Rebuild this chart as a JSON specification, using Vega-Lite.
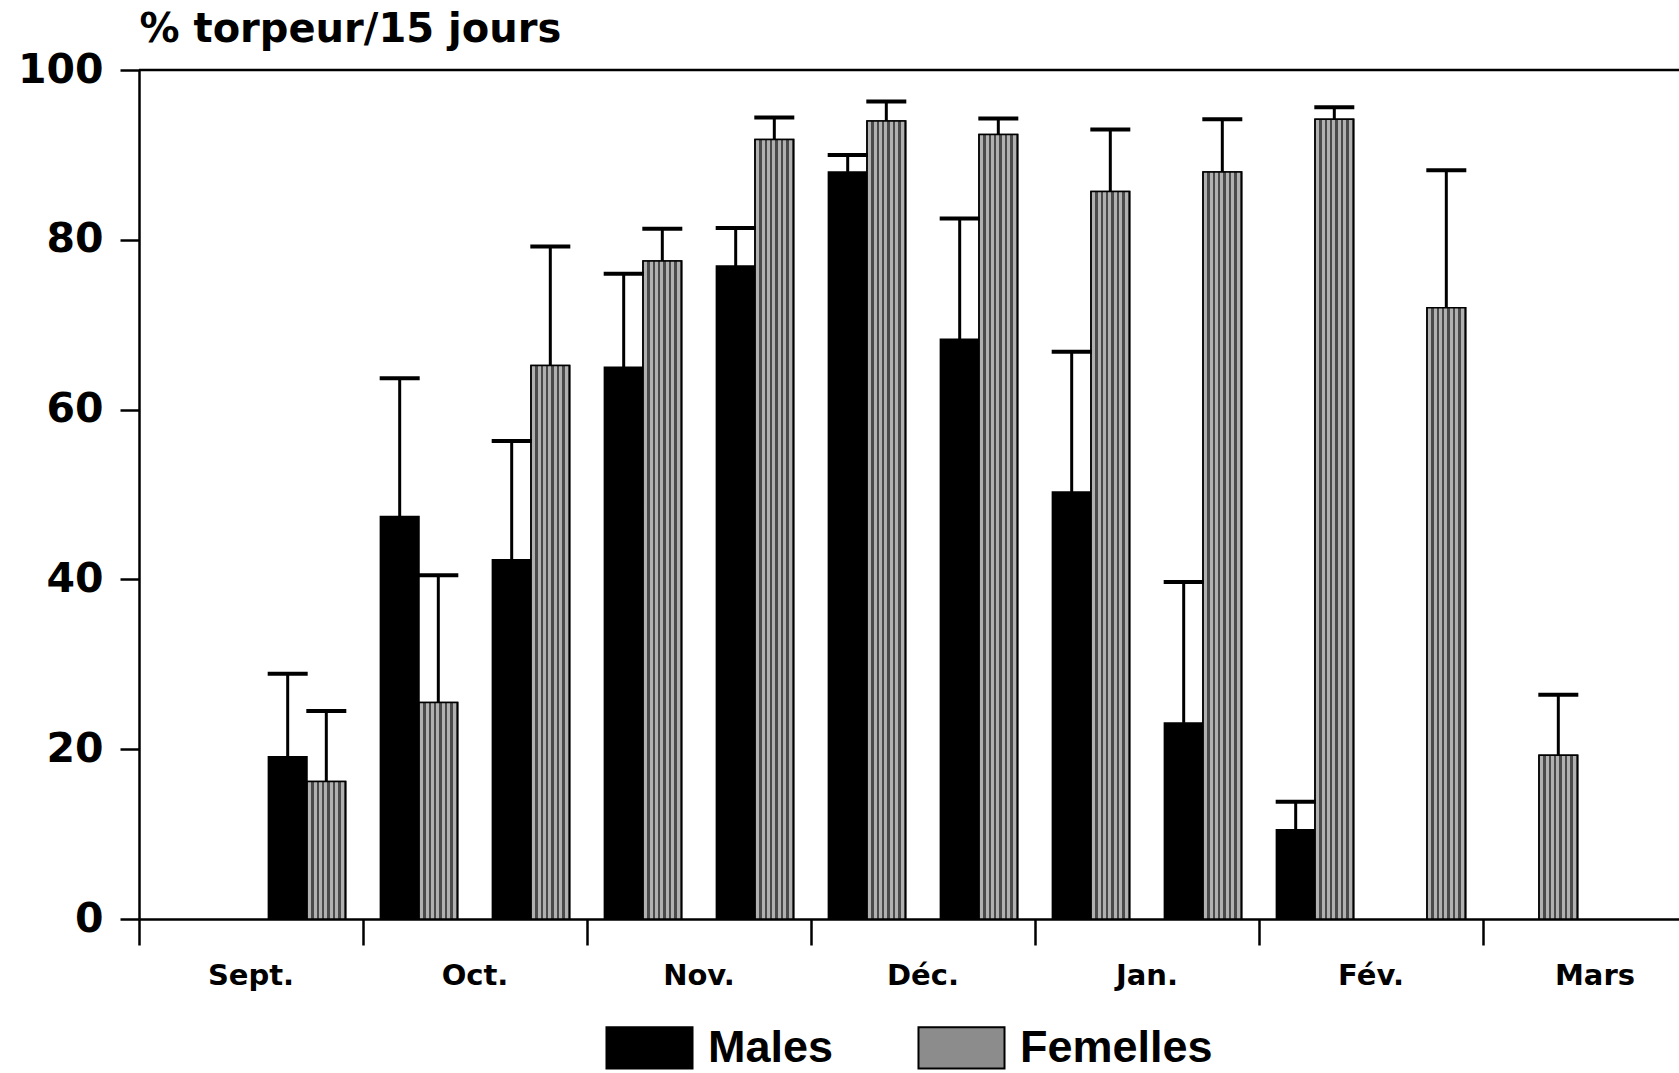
{
  "$schema": "https://vega.github.io/schema/vega-lite/v6.json",
  "width": 1540,
  "height": 849,
  "autosize": {"type": "none"},
  "padding": {"left": 139, "top": 70, "right": 0, "bottom": 154},
  "background": "white",
  "config": {"view": {"stroke": null}, "font": "DejaVu Sans"},
  "data": {
    "values": [
      {"periode": "S2", "sexe": "Males", "pct": 19.1, "err": 28.9},
      {"periode": "S2", "sexe": "Femelles", "pct": 16.2, "err": 24.5},
      {"periode": "O1", "sexe": "Males", "pct": 47.4, "err": 63.7},
      {"periode": "O1", "sexe": "Femelles", "pct": 25.5, "err": 40.5},
      {"periode": "O2", "sexe": "Males", "pct": 42.3, "err": 56.3},
      {"periode": "O2", "sexe": "Femelles", "pct": 65.2, "err": 79.2},
      {"periode": "N1", "sexe": "Males", "pct": 65.0, "err": 76.0},
      {"periode": "N1", "sexe": "Femelles", "pct": 77.5, "err": 81.3},
      {"periode": "N2", "sexe": "Males", "pct": 76.9, "err": 81.4},
      {"periode": "N2", "sexe": "Femelles", "pct": 91.8, "err": 94.4},
      {"periode": "D1", "sexe": "Males", "pct": 88.0, "err": 90.0},
      {"periode": "D1", "sexe": "Femelles", "pct": 94.0, "err": 96.3},
      {"periode": "D2", "sexe": "Males", "pct": 68.3, "err": 82.5},
      {"periode": "D2", "sexe": "Femelles", "pct": 92.4, "err": 94.3},
      {"periode": "J1", "sexe": "Males", "pct": 50.3, "err": 66.8},
      {"periode": "J1", "sexe": "Femelles", "pct": 85.7, "err": 93.0},
      {"periode": "J2", "sexe": "Males", "pct": 23.1, "err": 39.7},
      {"periode": "J2", "sexe": "Femelles", "pct": 88.0, "err": 94.2},
      {"periode": "F1", "sexe": "Males", "pct": 10.5, "err": 13.8},
      {"periode": "F1", "sexe": "Femelles", "pct": 94.2, "err": 95.6},
      {"periode": "F2", "sexe": "Femelles", "pct": 72.0, "err": 88.2},
      {"periode": "M1", "sexe": "Femelles", "pct": 19.3, "err": 26.4}
    ]
  },
  "layer": [
    {
      "mark": {"type": "bar", "stroke": "black", "strokeWidth": 1.5},
      "encoding": {
        "x": {
          "field": "periode", "type": "nominal",
          "scale": {"domain": ["S1","S2","O1","O2","N1","N2","D1","D2","J1","J2","F1","F2","M1","M2"], "range": [0, 1568], "paddingInner": 0, "paddingOuter": 0},
          "axis": {
            "values": ["S1","O1","N1","D1","J1","F1","M1"],
            "bandPosition": 0,
            "labelExpr": "['Sept.','Oct.','Nov.','Déc.','Jan.','Fév.','Mars'][indexof(['S1','O1','N1','D1','J1','F1','M1'], datum.value)]",
            "labelOffset": 56,
            "title": null,
            "tickSize": 26,
            "tickWidth": 2.5,
            "tickColor": "black",
            "domainColor": "black",
            "domainWidth": 2.5,
            "labelFont": "DejaVu Sans",
            "labelFontSize": 29,
            "labelFontWeight": "bold",
            "labelColor": "black",
            "labelPadding": 16,
            "labelAngle": 0,
            "labelBound": false,
            "labelOverlap": false
          }
        },
        "xOffset": {"field": "sexe", "type": "nominal", "scale": {"domain": ["Males","Femelles"], "paddingInner": 0, "paddingOuter": 0.45}},
        "y": {
          "field": "pct", "type": "quantitative",
          "scale": {"domain": [0, 100], "nice": false},
          "axis": {
            "values": [0, 20, 40, 60, 80, 100],
            "title": "% torpeur/15 jours",
            "titleFont": "DejaVu Sans",
            "titleAngle": 0,
            "titleX": 0,
            "titleY": -29,
            "titleAlign": "left",
            "titleBaseline": "alphabetic",
            "titleFontSize": 40,
            "titleFontWeight": "bold",
            "titleColor": "black",
            "labelFont": "DejaVu Sans",
            "labelFontSize": 41,
            "labelFontWeight": "bold",
            "labelColor": "black",
            "labelPadding": 17,
            "tickSize": 19,
            "tickWidth": 2.5,
            "tickColor": "black",
            "domainColor": "black",
            "domainWidth": 2.5,
            "grid": false
          }
        },
        "color": {
          "field": "sexe", "type": "nominal",
          "scale": {"domain": ["Males","Femelles"], "range": ["#000000", "#8c8c8c"]},
          "legend": {
            "title": null,
            "orient": "none",
            "legendX": 466,
            "legendY": 933,
            "direction": "horizontal",
            "symbolType": "M-1,-0.48H1V0.48H-1Z",
            "symbolSize": 7400,
            "symbolStrokeColor": "black",
            "symbolStrokeWidth": 2,
            "symbolOpacity": 1,
            "labelFont": "Liberation Sans",
            "labelFontSize": 45,
            "labelFontWeight": "bold",
            "labelColor": "black",
            "labelOffset": 14,
            "labelLimit": 400,
            "columnPadding": 80
          }
        }
      }
    },
    {
      "transform": [{"filter": "datum.sexe === 'Femelles'"}],
      "mark": {
        "type": "bar",
        "stroke": "black",
        "strokeWidth": 1.5,
        "fill": {
          "gradient": "linear", "x1": 0, "y1": 0, "x2": 1, "y2": 0,
          "stops": [
            {"offset": 0, "color": "#4a4a4a"}, {"offset": 0.03, "color": "#4a4a4a"},
            {"offset": 0.03, "color": "#b0b0b0"}, {"offset": 0.11, "color": "#b0b0b0"},
            {"offset": 0.11, "color": "#4a4a4a"}, {"offset": 0.17, "color": "#4a4a4a"},
            {"offset": 0.17, "color": "#b0b0b0"}, {"offset": 0.25, "color": "#b0b0b0"},
            {"offset": 0.25, "color": "#4a4a4a"}, {"offset": 0.31, "color": "#4a4a4a"},
            {"offset": 0.31, "color": "#b0b0b0"}, {"offset": 0.39, "color": "#b0b0b0"},
            {"offset": 0.39, "color": "#4a4a4a"}, {"offset": 0.45, "color": "#4a4a4a"},
            {"offset": 0.45, "color": "#b0b0b0"}, {"offset": 0.53, "color": "#b0b0b0"},
            {"offset": 0.53, "color": "#4a4a4a"}, {"offset": 0.59, "color": "#4a4a4a"},
            {"offset": 0.59, "color": "#b0b0b0"}, {"offset": 0.67, "color": "#b0b0b0"},
            {"offset": 0.67, "color": "#4a4a4a"}, {"offset": 0.73, "color": "#4a4a4a"},
            {"offset": 0.73, "color": "#b0b0b0"}, {"offset": 0.81, "color": "#b0b0b0"},
            {"offset": 0.81, "color": "#4a4a4a"}, {"offset": 0.87, "color": "#4a4a4a"},
            {"offset": 0.87, "color": "#b0b0b0"}, {"offset": 0.95, "color": "#b0b0b0"},
            {"offset": 0.95, "color": "#4a4a4a"}, {"offset": 1, "color": "#4a4a4a"}
          ]
        }
      },
      "encoding": {
        "x": {"field": "periode", "type": "nominal"},
        "xOffset": {"field": "sexe", "type": "nominal"},
        "y": {"field": "pct", "type": "quantitative"}
      }
    },
    {
      "mark": {"type": "rule", "color": "black", "strokeWidth": 3},
      "encoding": {
        "x": {"field": "periode", "type": "nominal"},
        "xOffset": {"field": "sexe", "type": "nominal"},
        "y": {"field": "pct", "type": "quantitative"},
        "y2": {"field": "err"}
      }
    },
    {
      "mark": {"type": "tick", "color": "black", "thickness": 4, "size": 40, "opacity": 1},
      "encoding": {
        "x": {"field": "periode", "type": "nominal"},
        "xOffset": {"field": "sexe", "type": "nominal"},
        "y": {"field": "err", "type": "quantitative"}
      }
    },
    {
      "data": {"values": [{}]},
      "mark": {"type": "rule", "color": "black", "strokeWidth": 2.5},
      "encoding": {"y": {"datum": 100}}
    }
  ]
}
